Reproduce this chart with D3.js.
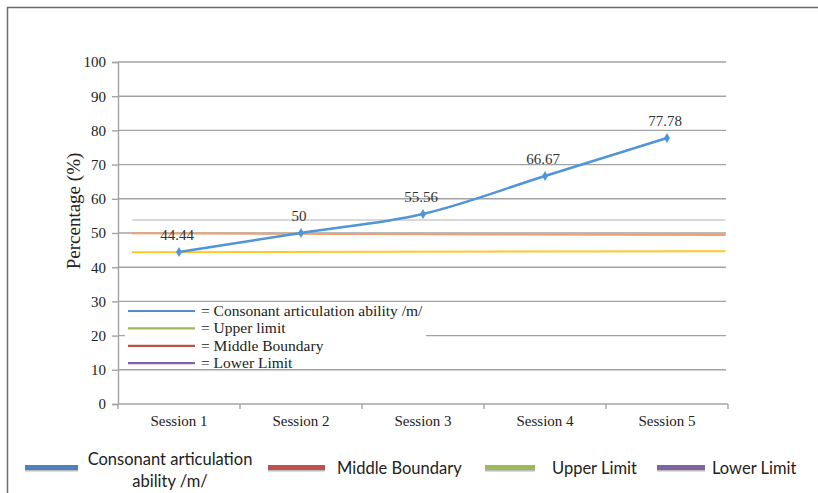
<!DOCTYPE html>
<html>
<head>
<meta charset="utf-8">
<script src="https://cdn.jsdelivr.net/npm/d3@7/dist/d3.min.js"></script>
<style>
  body { margin: 0; background: #fff; }
  svg { display: block; }
</style>
</head>
<body>
<div id="chart"></div>
<script>
// sessions and the measured scores
const sessions = ["Session 1", "Session 2", "Session 3", "Session 4", "Session 5"];
const scores = [44.44, 50, 55.56, 66.67, 77.78];
const scoreLabels = ["44.44", "50", "55.56", "66.67", "77.78"];
const yTicks = [0, 10, 20, 30, 40, 50, 60, 70, 80, 90, 100];

// flat reference lines drawn across the plot: [start value, end value]
const refNames = ["grey", "middle", "lower"];
const refStart = [53.8, 49.9, 44.4];
const refEnd = [53.8, 49.4, 44.7];
const refColors = ["#b4b4b4", "#f0a070", "#ffc727"];

// inner legend
const innerLegend = ["= Consonant articulation ability /m/", "= Upper limit", "= Middle Boundary", "= Lower Limit"];
const innerLegendColors = ["#4f8fd0", "#9bbb59", "#c0504d", "#8064a2"];

// bottom legend
const outerLegend = [["Consonant articulation", "ability /m/"], ["Middle Boundary"], ["Upper Limit"], ["Lower Limit"]];
const outerLegendColors = ["#4f81bd", "#c0504d", "#9bbb59", "#8064a2"];

const width = 818, height = 493;
const plotLeft = 118, plotRight = 728, plotTop = 62, plotBottom = 404;

const svg = d3.select("#chart").append("svg")
  .attr("width", width)
  .attr("height", height);

// outer frame
svg.append("rect")
  .attr("x", 7.5).attr("y", 7.5)
  .attr("width", 840).attr("height", 520)
  .attr("fill", "none")
  .attr("stroke", "#6b6b6b")
  .attr("stroke-width", 1.5);

const y = d3.scaleLinear().domain([0, 100]).range([plotBottom, plotTop]);
const xEdge = d3.scaleLinear().domain([0, sessions.length]).range([plotLeft, plotRight]);
const xMid = i => xEdge(i + 0.5);

const serif = "'Liberation Serif', 'Times New Roman', serif";

// gridlines
svg.append("g")
  .selectAll("line")
  .data(yTicks.filter(d => d > 0))
  .join("line")
  .attr("x1", plotLeft).attr("x2", plotRight - 2)
  .attr("y1", d => y(d)).attr("y2", d => y(d))
  .attr("stroke", "#a3a3a3")
  .attr("stroke-width", 1.4);

// y axis
const yAxis = svg.append("g")
  .attr("transform", `translate(${plotLeft},0)`)
  .attr("font-family", serif)
  .call(d3.axisLeft(y).tickValues(yTicks).tickSize(6).tickPadding(6));
yAxis.attr("font-family", serif).attr("font-size", 15);
yAxis.select(".domain").attr("stroke", "#a3a3a3").attr("stroke-width", 1.4);
yAxis.selectAll(".tick line").attr("stroke", "#a3a3a3").attr("stroke-width", 1.4);
yAxis.selectAll("text").attr("fill", "#222");

// x axis: ticks at category edges
svg.append("g")
  .selectAll("line")
  .data(d3.range(sessions.length + 1))
  .join("line")
  .attr("x1", d => xEdge(d)).attr("x2", d => xEdge(d))
  .attr("y1", plotBottom).attr("y2", plotBottom + 5)
  .attr("stroke", "#a3a3a3")
  .attr("stroke-width", 1.4);
svg.append("line")
  .attr("x1", plotLeft).attr("x2", plotRight)
  .attr("y1", plotBottom).attr("y2", plotBottom)
  .attr("stroke", "#a3a3a3")
  .attr("stroke-width", 1.4);
svg.append("g")
  .selectAll("text")
  .data(sessions)
  .join("text")
  .attr("x", (d, i) => xMid(i))
  .attr("y", plotBottom + 22)
  .attr("text-anchor", "middle")
  .style("font-family", serif)
  .style("font-size", "15px")
  .attr("fill", "#222")
  .text(d => d);

// y title
svg.append("text")
  .attr("transform", `translate(80,${(plotTop + plotBottom) / 2 - 22}) rotate(-90)`)
  .attr("text-anchor", "middle")
  .style("font-family", serif)
  .style("font-size", "19px")
  .attr("fill", "#222")
  .text("Percentage (%)");

// reference lines
svg.append("g")
  .selectAll("line")
  .data(refNames)
  .join("line")
  .attr("x1", xEdge(0.115)).attr("x2", xEdge(4.98))
  .attr("y1", (d, i) => y(refStart[i]))
  .attr("y2", (d, i) => y(refEnd[i]))
  .attr("stroke", (d, i) => refColors[i])
  .attr("stroke-width", (d, i) => i === 0 ? 1.2 : 2);

// score line
const line = d3.line()
  .x((d, i) => xMid(i))
  .y(d => y(d))
  .curve(d3.curveCatmullRom.alpha(0.5));

svg.append("path")
  .datum(scores)
  .attr("d", line)
  .attr("fill", "none")
  .attr("stroke", "#4f95d8")
  .attr("stroke-width", 2.5);

svg.append("g")
  .selectAll("path")
  .data(scores)
  .join("path")
  .attr("transform", (d, i) => `translate(${xMid(i)},${y(d)})`)
  .attr("d", d3.symbol(d3.symbolDiamond, 30))
  .attr("fill", "#4f95d8");

svg.append("g")
  .selectAll("text")
  .data(scores)
  .join("text")
  .attr("x", (d, i) => xMid(i) - 2)
  .attr("y", d => y(d) - 12)
  .attr("text-anchor", "middle")
  .style("font-family", serif)
  .style("font-size", "15px")
  .attr("fill", "#333")
  .text((d, i) => scoreLabels[i]);

// inner legend, white box hides the gridlines underneath
const inner = svg.append("g");
inner.append("rect")
  .attr("x", 125).attr("y", y(28.5))
  .attr("width", 301).attr("height", y(10) - y(28.5) - 3)
  .attr("fill", "#fff");
innerLegend.forEach((label, i) => {
  const ly = y(27.2) + i * 17.4;
  inner.append("line")
    .attr("x1", 128).attr("x2", 195)
    .attr("y1", ly).attr("y2", ly)
    .attr("stroke", innerLegendColors[i])
    .attr("stroke-width", 2.2);
  inner.append("text")
    .attr("x", 201).attr("y", ly + 5)
    .style("font-family", serif)
    .style("font-size", "15.5px")
    .attr("fill", "#222")
    .text(label);
});

// bottom legend
const swatchX = [25, 268, 485, 657];
const swatchW = [53, 57, 50, 48];
const textX = [170, 337, 552, 712];
const outer = svg.append("g");
outerLegend.forEach((lines, i) => {
  outer.append("rect")
    .attr("x", swatchX[i]).attr("y", 465)
    .attr("width", swatchW[i]).attr("height", 5)
    .attr("fill", outerLegendColors[i]);
  outer.append("rect")
    .attr("x", swatchX[i]).attr("y", 470)
    .attr("width", swatchW[i]).attr("height", 1.5)
    .attr("fill", "#bbb");
  const t = outer.append("text")
    .attr("text-anchor", i === 0 ? "middle" : "start")
    .style("font-family", "Lato, 'Open Sans', sans-serif")
    .style("font-size", "16.5px")
    .attr("fill", "#222");
  lines.forEach((s, j) => {
    t.append("tspan")
      .attr("x", textX[i])
      .attr("y", lines.length > 1 ? 465 + j * 22 : 474)
      .text(s);
  });
});
</script>
</body>
</html>
